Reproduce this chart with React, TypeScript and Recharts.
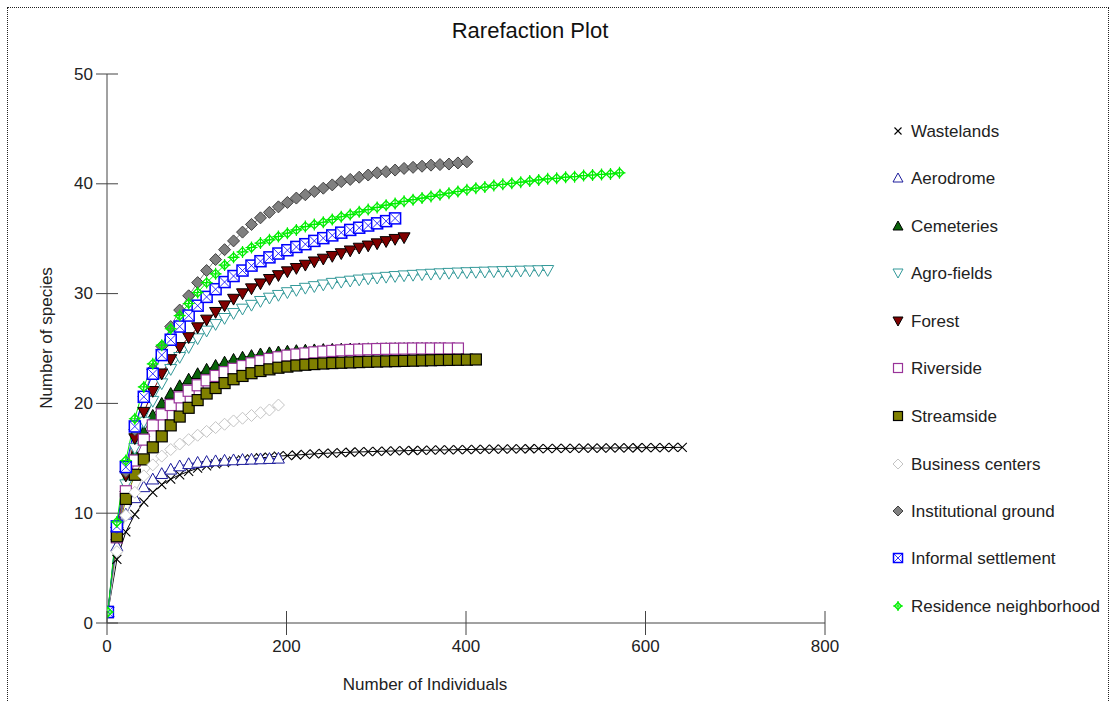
import React from 'react';
import { LineChart, Line, XAxis, YAxis } from 'recharts';

// Sample sizes (number of individuals) at which rarefaction was evaluated
const individuals = [
  1, 11, 21, 31, 41, 51, 61, 71, 81, 91,
  101, 111, 121, 131, 141, 151, 161, 171, 181, 191,
  201, 211, 221, 231, 241, 251, 261, 271, 281, 291,
  301, 311, 321, 331, 341, 351, 361, 371, 381, 391,
  401, 411, 421, 431, 441, 451, 461, 471, 481, 491,
  501, 511, 521, 531, 541, 551, 561, 571, 581, 591,
  601, 611, 621, 631, 641,
];

const wastelands = [
  1, 5.8, 8.3, 9.9, 11.0, 11.9, 12.6, 13.1, 13.5, 13.8,
  14.1, 14.3, 14.5, 14.6, 14.75, 14.85, 14.95, 15.05, 15.1, 15.2,
  15.25, 15.3, 15.35, 15.4, 15.45, 15.48, 15.52, 15.55, 15.58, 15.6,
  15.63, 15.65, 15.67, 15.69, 15.71, 15.73, 15.74, 15.76, 15.77, 15.79,
  15.8, 15.81, 15.82, 15.83, 15.84, 15.85, 15.86, 15.87, 15.88, 15.89,
  15.9, 15.9, 15.91, 15.92, 15.93, 15.93, 15.94, 15.95, 15.95, 15.96,
  15.97, 15.97, 15.98, 15.99, 16.0,
];
const aerodrome = [
  1, 7.0, 9.9, 11.4, 12.4, 13.1, 13.6, 14.0, 14.3, 14.5,
  14.62, 14.7, 14.76, 14.81, 14.85, 14.88, 14.91, 14.94, 14.97, 15.0,
];
const cemeteries = [
  1, 8.0, 12.4, 15.4, 17.4, 18.9, 20.0, 20.9, 21.6, 22.2,
  22.7, 23.1, 23.45, 23.75, 24.0, 24.2, 24.35, 24.5, 24.6, 24.68,
  24.75, 24.8, 24.84, 24.87, 24.9, 24.92, 24.94, 24.95, 24.96, 24.97,
  24.98, 24.98, 24.99, 24.99, 25.0, 25.0, 25.0, 25.0,
];
const agroFields = [
  1, 7.9, 12.6, 15.9, 18.3, 20.2, 21.8, 23.1, 24.2, 25.1,
  25.9, 26.6, 27.2, 27.75, 28.2, 28.6, 28.95, 29.3, 29.6, 29.85,
  30.1, 30.3, 30.5, 30.65, 30.8, 30.95, 31.05, 31.15, 31.25, 31.35,
  31.42, 31.5, 31.57, 31.63, 31.68, 31.73, 31.78, 31.82, 31.86, 31.89,
  31.92, 31.95, 31.97, 32.0, 32.02, 32.04, 32.06, 32.08, 32.1, 32.12,
];
const forest = [
  1, 8.3, 13.4, 16.8, 19.2, 21.1, 22.7, 24.0, 25.1, 26.0,
  26.9, 27.6, 28.3, 28.9, 29.5, 30.0, 30.45, 30.9, 31.3, 31.65,
  32.0, 32.3, 32.6, 32.9, 33.15, 33.4, 33.65, 33.9, 34.15, 34.35,
  34.55, 34.75, 34.95, 35.1,
];
const riverside = [
  1, 7.8, 12.0, 14.8, 16.7, 18.0, 19.0, 19.85, 20.55, 21.15,
  21.65, 22.1, 22.5, 22.85, 23.15, 23.4, 23.65, 23.85, 24.05, 24.2,
  24.35, 24.45, 24.55, 24.65, 24.72, 24.78, 24.83, 24.87, 24.9, 24.93,
  24.95, 24.97, 24.98, 24.99, 25.0, 25.0, 25.0, 25.0, 25.0, 25.0,
];
const streamside = [
  1, 7.9, 11.3, 13.5, 14.9, 16.0, 17.0, 18.0, 18.8, 19.6,
  20.3, 20.9, 21.4, 21.85, 22.2, 22.5, 22.75, 22.95, 23.1, 23.25,
  23.35, 23.45, 23.52, 23.58, 23.63, 23.67, 23.7, 23.73, 23.76, 23.79,
  23.81, 23.83, 23.85, 23.87, 23.89, 23.91, 23.93, 23.95, 23.96, 23.97,
  23.98, 24.0,
];
const businessCenters = [
  1, 6.5, 9.8, 11.9, 13.4, 14.4, 15.2, 15.8, 16.3, 16.7,
  17.1, 17.45, 17.8, 18.1, 18.4, 18.65, 18.9, 19.15, 19.4, 19.85,
];
const institutionalGround = [
  1, 8.7, 13.8, 17.6, 20.6, 23.1, 25.2, 27.0, 28.5, 29.8,
  31.0, 32.1, 33.1, 34.0, 34.8, 35.6, 36.3, 36.9, 37.4, 37.9,
  38.3, 38.7, 39.0, 39.3, 39.6, 39.9, 40.2, 40.4, 40.6, 40.8,
  41.0, 41.1, 41.25, 41.4, 41.5, 41.6, 41.7, 41.75, 41.8, 41.9,
  42.0,
];
const informalSettlement = [
  1, 8.8, 14.2, 17.9, 20.6, 22.7, 24.4, 25.8, 27.0, 28.0,
  28.9, 29.7, 30.4, 31.05, 31.6, 32.1, 32.55, 32.95, 33.3, 33.65,
  33.95, 34.25, 34.5, 34.8, 35.05, 35.3, 35.55, 35.8, 36.0, 36.2,
  36.4, 36.6, 36.85,
];
const residenceNeighborhood = [
  1, 9.2, 14.8, 18.6, 21.5, 23.6, 25.3, 26.8, 28.0, 29.1,
  30.1, 31.0, 31.8, 32.6, 33.3, 33.8, 34.2, 34.6, 34.9, 35.2,
  35.5, 35.8, 36.1, 36.3, 36.5, 36.75, 37.0, 37.2, 37.45, 37.65,
  37.85, 38.05, 38.2, 38.4, 38.55, 38.7, 38.85, 39.0, 39.15, 39.3,
  39.45, 39.6, 39.7, 39.85, 39.95, 40.05, 40.15, 40.25, 40.35, 40.45,
  40.5, 40.6, 40.65, 40.75, 40.8, 40.85, 40.9, 41.0,
];

const xTicks = [0, 200, 400, 600, 800];
const yTicks = [0, 10, 20, 30, 40, 50];

type Kind = 'x' | 'triUp' | 'triDown' | 'square' | 'diamond' | 'sqX' | 'crossDia';

const seriesDefs: { name: string; values: number[]; kind: Kind; stroke: string; fill: string; line: string }[] = [
  { name: 'Wastelands', values: wastelands, kind: 'x', stroke: '#000000', fill: 'none', line: '#000000' },
  { name: 'Aerodrome', values: aerodrome, kind: 'triUp', stroke: '#1c1c9c', fill: '#ffffff', line: '#1c1c9c' },
  { name: 'Cemeteries', values: cemeteries, kind: 'triUp', stroke: '#000000', fill: '#0a640a', line: '#0a640a' },
  { name: 'Agro-fields', values: agroFields, kind: 'triDown', stroke: '#339999', fill: '#ffffff', line: '#339999' },
  { name: 'Forest', values: forest, kind: 'triDown', stroke: '#000000', fill: '#800000', line: '#800000' },
  { name: 'Riverside', values: riverside, kind: 'square', stroke: '#993399', fill: '#ffffff', line: '#993399' },
  { name: 'Streamside', values: streamside, kind: 'square', stroke: '#000000', fill: '#808000', line: '#808000' },
  { name: 'Business centers', values: businessCenters, kind: 'diamond', stroke: '#c4c4c4', fill: '#ffffff', line: '#c4c4c4' },
  { name: 'Institutional ground', values: institutionalGround, kind: 'diamond', stroke: '#404040', fill: '#808080', line: '#808080' },
  { name: 'Informal settlement', values: informalSettlement, kind: 'sqX', stroke: '#0000ff', fill: '#ffffff', line: '#0000ff' },
  { name: 'Residence neighborhood', values: residenceNeighborhood, kind: 'crossDia', stroke: '#00ee00', fill: '#ffffff', line: '#00ee00' },
];

const FONT = '"Liberation Sans", Arial, sans-serif';

function Marker({ cx, cy, kind, stroke, fill, r = 6 }: { cx: number; cy: number; kind: Kind; stroke: string; fill: string; r?: number }) {
  if (cx == null || cy == null || isNaN(cx) || isNaN(cy)) return null;
  switch (kind) {
    case 'x': {
      const a = r - 1.5;
      return (
        <path d={`M${cx - a},${cy - a}L${cx + a},${cy + a}M${cx - a},${cy + a}L${cx + a},${cy - a}`} stroke={stroke} strokeWidth={1.1} fill="none" />
      );
    }
    case 'triUp':
      return (
        <polygon points={`${cx},${cy - r} ${cx + r},${cy + r * 0.8} ${cx - r},${cy + r * 0.8}`} fill={fill} stroke={stroke} strokeWidth={1} />
      );
    case 'triDown':
      return (
        <polygon points={`${cx - r},${cy - r * 0.8} ${cx + r},${cy - r * 0.8} ${cx},${cy + r}`} fill={fill} stroke={stroke} strokeWidth={1} />
      );
    case 'square': {
      const s = r - 0.5;
      return <rect x={cx - s} y={cy - s} width={2 * s} height={2 * s} fill={fill} stroke={stroke} strokeWidth={1.2} />;
    }
    case 'diamond':
      return (
        <polygon points={`${cx},${cy - r} ${cx + r},${cy} ${cx},${cy + r} ${cx - r},${cy}`} fill={fill} stroke={stroke} strokeWidth={1} />
      );
    case 'sqX': {
      const s = r - 0.5;
      return (
        <g>
          <rect x={cx - s} y={cy - s} width={2 * s} height={2 * s} fill={fill} stroke={stroke} strokeWidth={1.5} />
          <path d={`M${cx - s},${cy - s}L${cx + s},${cy + s}M${cx - s},${cy + s}L${cx + s},${cy - s}`} stroke={stroke} strokeWidth={0.8} />
        </g>
      );
    }
    case 'crossDia': {
      const d = r - 1.5;
      return (
        <g>
          <polygon points={`${cx},${cy - d} ${cx + d},${cy} ${cx},${cy + d} ${cx - d},${cy}`} fill="none" stroke={stroke} strokeWidth={1.3} />
          <path d={`M${cx - r},${cy}L${cx + r},${cy}M${cx},${cy - r}L${cx},${cy + r}`} stroke={stroke} strokeWidth={1.2} />
        </g>
      );
    }
  }
  return null;
}

const YTick = (props: any) => {
  const { x, y, payload } = props;
  return (
    <g>
      <line x1={x - 11} x2={x + 11} y1={y} y2={y} stroke="#444" strokeWidth={1} />
      <text x={x - 14} y={y} textAnchor="end" dominantBaseline="central" fontSize={17} fontFamily={FONT} fill="#222">
        {payload.value}
      </text>
    </g>
  );
};

const XTick = (props: any) => {
  const { x, y, payload } = props;
  return (
    <g>
      <line x1={x} x2={x} y1={y - 12} y2={y + 12} stroke="#444" strokeWidth={1} />
      <text x={x} y={y + 23} textAnchor="middle" dominantBaseline="central" fontSize={17} fontFamily={FONT} fill="#222">
        {payload.value}
      </text>
    </g>
  );
};

const legendRowsY = [131, 178, 226, 273, 321, 368, 416, 464, 511, 558, 606];

export default function App() {
  const series = seriesDefs.map((s) => ({
    ...s,
    data: s.values.map((v, i) => ({ n: individuals[i], s: v })),
  }));

  return (
    <div style={{ position: 'absolute', left: 0, top: 0, width: 1113, height: 702, background: '#fff', fontFamily: FONT }}>
      <div
        style={{
          position: 'absolute',
          left: 7,
          top: 7,
          width: 1102,
          height: 700,
          borderTop: '1px dotted #222',
          borderLeft: '1px dotted #222',
          borderRight: '1px dotted #222',
          boxSizing: 'border-box',
        }}
      />
      <LineChart width={1113} height={702} margin={{ top: 74, right: 288, bottom: 49, left: 67 }}>
        <XAxis
          type="number"
          dataKey="n"
          domain={[0, 800]}
          ticks={xTicks}
          allowDataOverflow
          height={30}
          tickSize={0}
          tickMargin={0}
          axisLine={{ stroke: '#444', strokeWidth: 1 }}
          tickLine={false}
          tick={(p: any) => <XTick {...p} />}
          interval={0}
        />
        <YAxis
          type="number"
          dataKey="s"
          domain={[0, 50]}
          ticks={yTicks}
          allowDataOverflow
          width={40}
          tickSize={0}
          tickMargin={0}
          axisLine={{ stroke: '#444', strokeWidth: 1 }}
          tickLine={false}
          tick={(p: any) => <YTick {...p} />}
          interval={0}
        />
        {series.map((s) => (
          <Line
            key={s.name}
            name={s.name}
            data={s.data}
            dataKey="s"
            type="linear"
            stroke={s.line}
            strokeWidth={1}
            isAnimationActive={false}
            activeDot={false}
            dot={(p: any) => (
              <Marker key={`${s.name}-${p.index}`} cx={p.cx} cy={p.cy} kind={s.kind} stroke={s.stroke} fill={s.fill} />
            )}
          />
        ))}
      </LineChart>
      <svg width={1113} height={702} style={{ position: 'absolute', left: 0, top: 0, pointerEvents: 'none' }}>
        <text x={530} y={30} textAnchor="middle" dominantBaseline="central" fontSize={22} fontFamily={FONT} fill="#111">
          Rarefaction Plot
        </text>
        <text x={425} y={684} textAnchor="middle" dominantBaseline="central" fontSize={17} fontFamily={FONT} fill="#222">
          Number of Individuals
        </text>
        <text
          x={46}
          y={338}
          textAnchor="middle"
          dominantBaseline="central"
          fontSize={17}
          fontFamily={FONT}
          fill="#222"
          transform="rotate(-90 46 338)"
        >
          Number of species
        </text>
        {seriesDefs.map((s, i) => (
          <g key={s.name}>
            <Marker cx={898} cy={legendRowsY[i]} kind={s.kind} stroke={s.stroke} fill={s.fill} r={5} />
            <text x={911} y={legendRowsY[i]} dominantBaseline="central" fontSize={17} fontFamily={FONT} fill="#222">
              {s.name}
            </text>
          </g>
        ))}
      </svg>
    </div>
  );
}
